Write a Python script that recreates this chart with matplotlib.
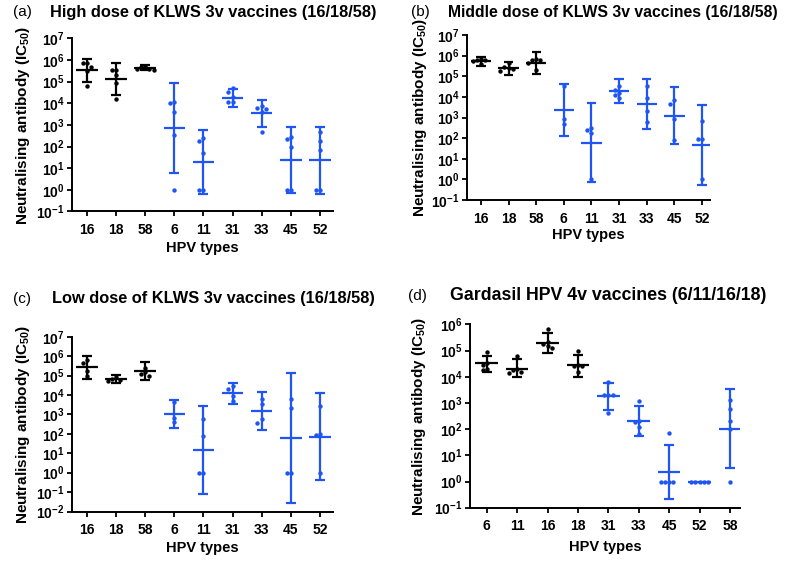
import numpy as np
import matplotlib
matplotlib.use("Agg")
import matplotlib.pyplot as plt
from matplotlib.ticker import FixedLocator, FixedFormatter

plt.rcParams['font.family'] = ['Liberation Sans', 'DejaVu Sans']
plt.rcParams['mathtext.fontset'] = 'custom'
plt.rcParams['mathtext.rm'] = 'Liberation Sans'
plt.rcParams['mathtext.bf'] = 'Liberation Sans:bold'
plt.rcParams['mathtext.it'] = 'Liberation Sans:italic'

# ---------------- data ----------------
a_title = "High dose of KLWS 3v vaccines (16/18/58)"
b_title = "Middle dose of KLWS 3v vaccines (16/18/58)"
c_title = "Low dose of KLWS 3v vaccines (16/18/58)"
d_title = "Gardasil HPV 4v vaccines (6/11/16/18)"

abc_types = ['16', '18', '58', '6', '11', '31', '33', '45', '52']
d_types = ['6', '11', '16', '18', '31', '33', '45', '52', '58']

a_points = [
    [7e5, 7e5, 4.5e5, 3e5, 6e4],
    [3.5e5, 3.3e5, 2e5, 9e4, 1.5e4],
    [4e5, 5e5, 3.5e5, 4.5e5, 3.8e5],
    [1.2e4, 1e4, 4e3, 3.5e2, 1],
    [185, 260, 50, 1, 1],
    [5e4, 3.4e4, 1.2e4, 1.1e4, 2e4],
    [5.6e3, 6e3, 7.4e3, 3.9e3, 4.5e2],
    [220, 280, 100, 1, 1],
    [480, 175, 70, 1, 1]]
a_mean = [3.3e5, 1.3e5, 4.3e5, 7.5e2, 20, 1.8e4, 3.4e3, 24, 24]
a_lo = [1e5, 2.5e4, 3.3e5, 6, 0.66, 6.7e3, 8.3e2, 0.7, 0.65]
a_hi = [1.1e6, 7e5, 5.6e5, 8.7e4, 5.8e2, 4.7e4, 1.4e4, 8e2, 8e2]

b_points = [
    [6e5, 6.8e5, 6e5, 4e5, 5.5e5],
    [4.2e5, 2.8e5, 2.2e5, 1.8e5, 2.5e5],
    [6.3e5, 6.5e5, 6e5, 2e5, 4.5e5],
    [3.3e4, 8e2, 4.8e2],
    [260, 300, 170, 1],
    [3.3e4, 1.6e4, 1.3e4, 8.5e3, 2.2e4],
    [3.3e4, 9.3e3, 2e3, 5.8e2],
    [4.5e3, 7e3, 8.3e2, 80],
    [6.9e2, 87, 87, 1]]
b_mean = [5.5e5, 2.5e5, 4.4e5, 2.3e3, 59, 2e4, 4.3e3, 1.2e3, 49]
b_lo = [3.2e5, 1.1e5, 1.3e5, 1.2e2, 0.76, 4.8e3, 2.7e2, 51, 0.56]
b_hi = [8.9e5, 4.9e5, 1.45e6, 4.3e4, 4.8e3, 7.2e4, 7e4, 2.9e4, 4e3]

c_points = [
    [6.3e5, 4.2e5, 1.7e5, 1e5],
    [6.5e4, 6e4, 5e4, 8e4],
    [1.45e5, 1.25e5, 9.3e4, 2.5e5],
    [4.4e3, 6.7e2, 4e2],
    [600, 78, 1, 1],
    [3e4, 2e4, 8.7e3, 5e3],
    [6.2e3, 3.4e3, 5.5e2, 3.4e2],
    [6.2e3, 2.2e3, 1, 1],
    [2.6e3, 100, 83, 1]]
c_mean = [2.8e5, 6.5e4, 1.7e5, 1.1e3, 15, 1.3e4, 1.45e3, 60, 68]
c_lo = [7e4, 4.2e4, 5.8e4, 2e2, 0.08, 3.6e3, 1.5e2, 0.028, 0.4]
c_hi = [1.04e6, 1.05e5, 4.7e5, 5.4e3, 2.6e3, 4.2e4, 1.35e4, 1.3e5, 1.2e4]

d_points = [
    [8.5e4, 3.2e4, 2.8e4, 1.8e4, 2e4],
    [6e4, 1.8e4, 1.4e4, 1.5e4, 2e4],
    [6.6e5, 1.5e5, 1.3e5, 1.8e5, 2.2e5],
    [9.5e4, 2.6e4, 2.6e4, 1.5e4, 2.7e4],
    [6.3e3, 1.95e3, 1.95e3, 4.2e2, 2e3],
    [1.2e3, 1.9e2, 1.2e2, 66, 2e2],
    [71, 1, 1, 1, 1],
    [1, 1, 1, 1, 1],
    [1.26e3, 5.7e2, 2.1e2, 1e2, 1]]
d_mean = [3.2e4, 2.05e4, 2e5, 2.8e4, 1.8e3, 2e2, 2.3, 1, 1.05e2]
d_lo = [1.55e4, 1e4, 8.2e4, 1e4, 5.2e2, 54, 0.21, 1, 3.2]
d_hi = [6.3e4, 4.6e4, 4.8e5, 7e4, 6e3, 7.6e2, 24, 1, 3.5e3]

# ---------------- styling ----------------
BLACK = '#000000'
BLUE = '#1f55f2'
W, H = 789, 570

fig = plt.figure(figsize=(W / 100, H / 100), dpi=100)


def rect(l, r, t, b):
    return [l / W, 1 - b / H, (r - l) / W, (b - t) / H]


panels = [
    dict(letter='(a)', title=a_title, tsize=11.8, types=abc_types, pts=a_points, mean=a_mean,
         lo=a_lo, hi=a_hi, nblack=3, rect=rect(72, 333, 38.3, 211.5), ylim=(-1, 7),
         xlim=(-0.515, 8.45), letter_xy=(13, 12), title_xy=(50, 12), xlab_y=248, ylab_x=23),
    dict(letter='(b)', title=b_title, tsize=11.3, types=abc_types, pts=b_points, mean=b_mean,
         lo=b_lo, hi=b_hi, nblack=3, rect=rect(467, 710, 35, 200), ylim=(-1, 7),
         xlim=(-0.507, 8.29), letter_xy=(411, 12), title_xy=(448, 12), xlab_y=235, ylab_x=420),
    dict(letter='(c)', title=c_title, tsize=11.8, types=abc_types, pts=c_points, mean=c_mean,
         lo=c_lo, hi=c_hi, nblack=3, rect=rect(72, 333, 336.7, 511.5), ylim=(-2, 7),
         xlim=(-0.515, 8.45), letter_xy=(13, 299), title_xy=(52, 299), xlab_y=548, ylab_x=23),
    dict(letter='(d)', title=d_title, tsize=12.8, types=d_types, pts=d_points, mean=d_mean,
         lo=d_lo, hi=d_hi, nblack=4, rect=rect(470, 740, 324.3, 507.7), ylim=(-1, 6),
         xlim=(-0.55, 8.33), letter_xy=(408, 296), title_xy=(450, 296), xlab_y=547, ylab_x=419),
]


def swarm(vals, px_per_dec, px_per_unit, dot_px=4.2):
    """simple beeswarm: return x offsets so dots don't overlap"""
    logs = np.log10(np.asarray(vals, dtype=float))
    order = np.argsort(-logs)
    placed = []
    offs = np.zeros(len(vals))
    step = dot_px / px_per_unit
    cands = [0]
    for n in range(1, 10):
        cands += [-n * step, n * step]
    for i in order:
        y = logs[i] * px_per_dec
        for c in cands:
            ok = True
            for (px, py) in placed:
                if abs(py - y) < dot_px and abs(px - c) < step * 0.99:
                    ok = False
                    break
            if ok:
                offs[i] = c
                placed.append((c, y))
                break
    return offs


for p in panels:
    ax = fig.add_axes(p['rect'])
    ax.set_yscale('log')
    ax.set_ylim(10 ** p['ylim'][0], 10 ** p['ylim'][1])
    ax.set_xlim(*p['xlim'])
    w_px = p['rect'][2] * W
    h_px = p['rect'][3] * H
    px_per_dec = h_px / (p['ylim'][1] - p['ylim'][0])
    px_per_unit = w_px / (p['xlim'][1] - p['xlim'][0])
    n = len(p['types'])
    for i in range(n):
        col = BLACK if i < p['nblack'] else BLUE
        vals = p['pts'][i]
        offs = swarm(vals, px_per_dec, px_per_unit)
        ax.scatter(i + offs, vals, s=10, color=col, zorder=3, linewidths=0, clip_on=False)
        ax.hlines(p['mean'][i], i - 0.37, i + 0.37, color=col, lw=1.6, zorder=4)
        if p['hi'][i] > p['lo'][i]:
            ax.vlines(i, p['lo'][i], p['hi'][i], color=col, lw=1.6, zorder=4)
            ax.hlines([p['lo'][i], p['hi'][i]], i - 0.17, i + 0.17, color=col, lw=1.6, zorder=4)
    ax.xaxis.set_major_locator(FixedLocator(range(n)))
    ax.xaxis.set_major_formatter(FixedFormatter(p['types']))
    decs = list(range(int(p['ylim'][0]), int(p['ylim'][1]) + 1))
    ax.yaxis.set_major_locator(FixedLocator([10.0 ** d for d in decs]))
    ax.yaxis.set_major_formatter(FixedFormatter([r'$\mathbf{10^{%d}}$' % d for d in decs]))
    ax.yaxis.set_minor_locator(FixedLocator([]))
    for s in ['top', 'right']:
        ax.spines[s].set_visible(False)
    for s in ['left', 'bottom']:
        ax.spines[s].set_linewidth(1.4)
    ax.tick_params(axis='both', which='major', length=3.8, width=1.3, labelsize=10)
    ax.tick_params(axis='x', pad=4.5)
    ax.tick_params(axis='y', pad=1.5)
    for lab in ax.get_xticklabels():
        lab.set_fontweight('bold')
    ax.set_ylabel(r'Neutralising antibody (IC$_{\mathbf{50}}$)', fontsize=11,
                  fontweight='bold')
    ax.set_xlabel('HPV types', fontsize=10.5, fontweight='bold')
    ax.xaxis.set_label_coords(0.5, (1 - p['xlab_y'] / H - p['rect'][1]) / p['rect'][3])
    ax.xaxis.label.set_va('center')
    ax.yaxis.set_label_coords((p['ylab_x'] / W - p['rect'][0]) / p['rect'][2], 0.5)
    ax.yaxis.label.set_va('center')
    fig.text(p['letter_xy'][0] / W, 1 - p['letter_xy'][1] / H, p['letter'],
             fontsize=11, ha='left', va='center')
    fig.text(p['title_xy'][0] / W, 1 - p['title_xy'][1] / H, p['title'],
             fontsize=p['tsize'], fontweight='bold', ha='left', va='center')

fig.savefig('out.png', dpi=100)
